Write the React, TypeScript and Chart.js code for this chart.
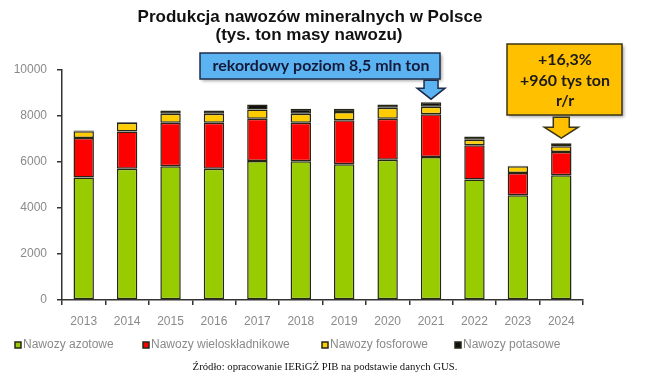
import React, { useEffect, useRef } from 'react';
import { Chart, registerables } from 'chart.js';

Chart.register(...registerables);

const years = ['2013', '2014', '2015', '2016', '2017', '2018', '2019', '2020', '2021', '2022', '2023', '2024'];
const azotowe = [5330, 5710, 5810, 5710, 6040, 6030, 5900, 6100, 6220, 5240, 4550, 5420];
const wieloskladnikowe = [1710, 1620, 1900, 2000, 1840, 1680, 1910, 1780, 1860, 1490, 970, 1010];
const fosforowe = [300, 380, 390, 390, 400, 390, 360, 480, 320, 240, 300, 250];
const potasowe = [30, 30, 140, 140, 220, 220, 150, 140, 200, 140, 20, 140];
const seriesNames = ['Nawozy azotowe', 'Nawozy wieloskładnikowe', 'Nawozy fosforowe', 'Nawozy potasowe'];
const yTicks = [0, 2000, 4000, 6000, 8000, 10000];
const titleLines = ['Produkcja nawozów mineralnych w Polsce', '(tys. ton masy nawozu)'];
const recordNote = 'rekordowy poziom 8,5 mln ton';
const recordYear = '2021';
const changeNote = ['+16,3%', '+960 tys ton', 'r/r'];
const changeYear = '2024';
const sourceNote = 'Źródło: opracowanie IERiGŻ PIB na podstawie danych GUS.';

const COLORS = ['#99cc00', '#ff0000', '#ffcc00', '#111111'];
const EDGE = '#262617';

function totalFor(year: string) {
  const i = years.indexOf(year);
  return azotowe[i] + wieloskladnikowe[i] + fosforowe[i] + potasowe[i];
}

function drawDownArrow(ctx: CanvasRenderingContext2D, cx: number, tip: number, shaftW: number, shaftH: number, headW: number, headH: number, fill: string, stroke: string) {
  const top = tip - headH - shaftH;
  ctx.beginPath();
  ctx.moveTo(cx - shaftW / 2, top);
  ctx.lineTo(cx + shaftW / 2, top);
  ctx.lineTo(cx + shaftW / 2, top + shaftH);
  ctx.lineTo(cx + headW / 2, top + shaftH);
  ctx.lineTo(cx, tip);
  ctx.lineTo(cx - headW / 2, top + shaftH);
  ctx.lineTo(cx - shaftW / 2, top + shaftH);
  ctx.closePath();
  ctx.fillStyle = fill;
  ctx.fill();
  ctx.lineWidth = 1.5;
  ctx.strokeStyle = stroke;
  ctx.stroke();
}

function fitFont(ctx: CanvasRenderingContext2D, text: string, family: string, weight: string, targetWidth: number, base: number) {
  ctx.font = `${weight} ${base}px ${family}`;
  const w = ctx.measureText(text).width;
  return base * targetWidth / w;
}

const overlayPlugin = {
  id: 'overlay',
  beforeDraw(chart: any) {
    const ctx = chart.ctx;
    ctx.save();
    ctx.fillStyle = '#ffffff';
    ctx.fillRect(0, 0, chart.width, chart.height);
    ctx.restore();
  },
  afterDraw(chart: any) {
    const ctx: CanvasRenderingContext2D = chart.ctx;
    const xs = chart.scales.x;
    const ys = chart.scales.y;
    ctx.save();

    // Title
    ctx.fillStyle = '#111111';
    ctx.textAlign = 'center';
    ctx.textBaseline = 'alphabetic';
    ctx.font = 'bold 17px "Liberation Sans", Arial, sans-serif';
    ctx.fillText(titleLines[0], 310, 22);
    ctx.fillText(titleLines[1], 309, 40);

    // Blue record box
    const bx = 200, by = 53, bw = 240, bh = 26;
    ctx.save();
    ctx.shadowColor = 'rgba(0,0,0,0.35)';
    ctx.shadowBlur = 3;
    ctx.shadowOffsetX = 2;
    ctx.shadowOffsetY = 2;
    ctx.fillStyle = '#5cb3f2';
    ctx.fillRect(bx, by, bw, bh);
    ctx.restore();
    ctx.lineWidth = 1.5;
    ctx.strokeStyle = '#1f2d4a';
    ctx.strokeRect(bx, by, bw, bh);
    const blueFamily = 'Lato, "Open Sans", sans-serif';
    const bfs = fitFont(ctx, recordNote, blueFamily, 'bold', 217, 15);
    ctx.font = `bold ${bfs}px ${blueFamily}`;
    ctx.fillStyle = '#141a3a';
    ctx.textBaseline = 'middle';
    ctx.fillText(recordNote, 321, 66);

    const rx = xs.getPixelForValue(years.indexOf(recordYear));
    const rtip = ys.getPixelForValue(totalFor(recordYear)) - 3;
    drawDownArrow(ctx, rx, rtip, 14, 8, 28, 11, '#5cb3f2', '#1f2d4a');

    // Orange change box
    const ox = 507, oy = 44, ow = 115, oh = 71;
    ctx.save();
    ctx.shadowColor = 'rgba(0,0,0,0.35)';
    ctx.shadowBlur = 3;
    ctx.shadowOffsetX = 2;
    ctx.shadowOffsetY = 2;
    ctx.fillStyle = '#ffc000';
    ctx.fillRect(ox, oy, ow, oh);
    ctx.restore();
    ctx.lineWidth = 1.5;
    ctx.strokeStyle = '#3d3414';
    ctx.strokeRect(ox, oy, ow, oh);
    const ofs = fitFont(ctx, changeNote[1], blueFamily, 'bold', 90, 15);
    ctx.font = `bold ${ofs}px ${blueFamily}`;
    ctx.fillStyle = '#1a1a1a';
    ctx.fillText(changeNote[0], 565, 60);
    ctx.fillText(changeNote[1], 565, 81);
    ctx.fillText(changeNote[2], 565, 101);

    const cx = xs.getPixelForValue(years.indexOf(changeYear));
    const ctip = ys.getPixelForValue(totalFor(changeYear)) - 5;
    drawDownArrow(ctx, cx, ctip, 16, 10, 34, 11, '#ffc000', '#3d3414');

    // Legend
    const legendX = [15, 143, 322, 455];
    const ly = 345;
    ctx.textAlign = 'left';
    ctx.textBaseline = 'middle';
    ctx.font = '12px "Liberation Sans", Arial, sans-serif';
    seriesNames.forEach((name, i) => {
      ctx.fillStyle = COLORS[i];
      ctx.fillRect(legendX[i], ly - 3, 6, 6);
      ctx.lineWidth = 1.5;
      ctx.strokeStyle = EDGE;
      ctx.strokeRect(legendX[i], ly - 3, 6, 6);
      ctx.fillStyle = '#8a8a8a';
      ctx.fillText(name, legendX[i] + 8, ly);
    });

    // Source
    const serif = '"Liberation Serif", "Times New Roman", serif';
    const sfs = fitFont(ctx, sourceNote, serif, 'normal', 265, 10);
    ctx.font = `${sfs}px ${serif}`;
    ctx.fillStyle = '#111111';
    ctx.textAlign = 'center';
    ctx.fillText(sourceNote, 325, 367);

    ctx.restore();
  },
};

export default function App() {
  const ref = useRef<HTMLCanvasElement | null>(null);
  useEffect(() => {
    if (!ref.current) return;
    const seriesValues = [azotowe, wieloskladnikowe, fosforowe, potasowe];
    const chart = new Chart(ref.current, {
      type: 'bar',
      data: {
        labels: years,
        datasets: seriesNames.map((name, i) => ({
          label: name,
          data: seriesValues[i],
          backgroundColor: COLORS[i],
          borderColor: EDGE,
          borderWidth: 1.5,
          borderSkipped: false,
          barPercentage: 0.47,
          categoryPercentage: 1,
        })),
      },
      options: {
        responsive: false,
        animation: false,
        devicePixelRatio: 1,
        layout: { padding: { top: 70, left: 0, right: 62, bottom: 52 } },
        plugins: {
          legend: { display: false },
          title: { display: false },
          tooltip: { enabled: false },
        },
        scales: {
          x: {
            stacked: true,
            grid: { drawOnChartArea: false, drawTicks: true, tickLength: 5, color: '#333333', lineWidth: 1.5, offset: true },
            border: { display: true, color: '#333333', width: 1.5 },
            ticks: { color: '#8a8a8a', font: { size: 12, family: '"Liberation Sans", Arial, sans-serif' }, padding: 9, maxRotation: 0 },
            afterFit: (s: any) => { s.height = 30; },
          },
          y: {
            stacked: true,
            min: 0,
            max: 10000,
            afterBuildTicks: (s: any) => { s.ticks = yTicks.map((v) => ({ value: v })); },
            grid: { drawOnChartArea: false, drawTicks: true, tickLength: 5, color: '#333333', lineWidth: 1.5 },
            border: { display: true, color: '#333333', width: 1.5 },
            ticks: {
              color: '#8a8a8a',
              font: { size: 12, family: '"Liberation Sans", Arial, sans-serif' },
              padding: 10,
              callback: (v: any) => String(v),
            },
            afterFit: (s: any) => { s.width = 62; },
          },
        },
      },
      plugins: [overlayPlugin],
    } as any);
    return () => chart.destroy();
  }, []);
  return (
    <div style={{ position: 'fixed', left: 0, top: 0, width: 645, height: 382, background: '#fff' }}>
      <canvas ref={ref} width={645} height={382} style={{ display: 'block', width: 645, height: 382 }} />
    </div>
  );
}
